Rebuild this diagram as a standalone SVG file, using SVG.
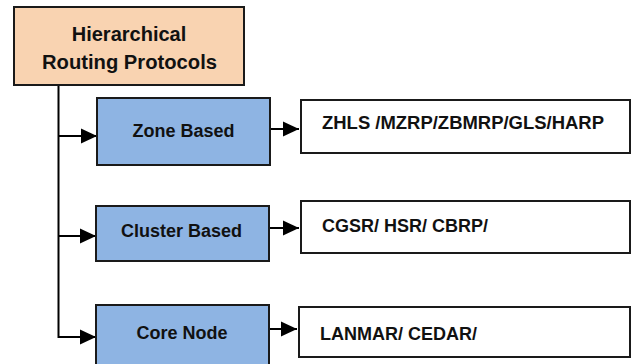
<svg xmlns="http://www.w3.org/2000/svg" width="631" height="364" viewBox="0 0 631 364">
<defs>
<marker id="ah" markerUnits="userSpaceOnUse" markerWidth="16" markerHeight="16" viewBox="0 0 16 16" refX="16" refY="8" orient="auto">
<path d="M0,0.5 L16,8 L0,15.5 Z" fill="#000"/>
</marker>
<style>
.box{stroke:#1a1a1a;stroke-width:2}
.root{fill:#F9D3B1}
.cat{fill:#8EB4E3}
.leaf{fill:#fff}
text{font-family:"Liberation Sans",Arial,sans-serif;font-weight:bold;fill:#111}
.t20{font-size:20px}
.t18{font-size:18px}
.c{stroke:#000;stroke-width:2;fill:none}
</style>
</defs>
<rect width="631" height="364" fill="#fff"/>
<g id="connectors">
<path class="c" d="M58.5,85 V337 H96" marker-end="url(#ah)"/>
<path class="c" d="M58.5,136 H97" marker-end="url(#ah)"/>
<path class="c" d="M58.5,236 H96" marker-end="url(#ah)"/>
<path class="c" d="M270,129 H299" marker-end="url(#ah)"/>
<path class="c" d="M269,228 H299" marker-end="url(#ah)"/>
<path class="c" d="M269,329 H297" marker-end="url(#ah)"/>
</g>
<g id="root">
<rect class="box root" x="14" y="7" width="230" height="78"/>
<text class="t20" x="129" y="41" text-anchor="middle">Hierarchical</text>
<text class="t20" x="129.5" y="69" text-anchor="middle" textLength="175" lengthAdjust="spacingAndGlyphs">Routing Protocols</text>
</g>
<g id="zone">
<rect class="box cat" x="97" y="98" width="173" height="67"/>
<text class="t18" x="183.5" y="137" text-anchor="middle">Zone Based</text>
</g>
<g id="cluster">
<rect class="box cat" x="96" y="206" width="173" height="55"/>
<text class="t18" x="181.5" y="237" text-anchor="middle">Cluster Based</text>
</g>
<g id="core">
<rect class="box cat" x="96" y="305" width="173" height="70"/>
<text class="t18" x="182" y="339" text-anchor="middle">Core Node</text>
</g>
<g id="zone-list">
<rect class="box leaf" x="301" y="100" width="329" height="53"/>
<text class="t18" x="322" y="129" textLength="282" lengthAdjust="spacingAndGlyphs">ZHLS /MZRP/ZBMRP/GLS/HARP</text>
</g>
<g id="cluster-list">
<rect class="box leaf" x="301" y="201" width="329" height="52"/>
<text class="t18" x="322" y="232">CGSR/ HSR/ CBRP/</text>
</g>
<g id="core-list">
<rect class="box leaf" x="299" y="307" width="331" height="50"/>
<text class="t18" x="320" y="340">LANMAR/ CEDAR/</text>
</g>
</svg>
